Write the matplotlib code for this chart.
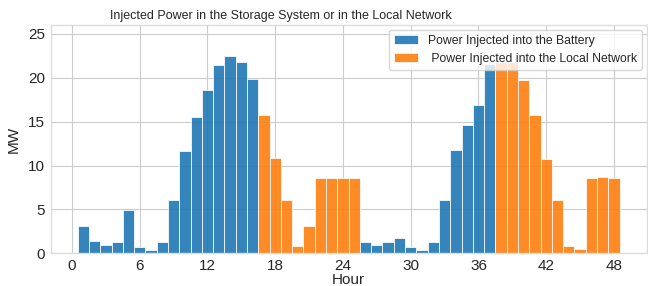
import matplotlib
matplotlib.use('Agg')
import matplotlib.pyplot as plt

# Hourly injected power (MW), two days
hours = list(range(1, 49))
battery_mw = [3.1, 1.4, 1.0, 1.3, 4.9, 0.7, 0.4, 1.3, 6.1, 11.7, 15.5, 18.6, 21.4, 22.5, 21.8, 19.8,
              0, 0, 0, 0, 0, 0, 0, 0, 0,
              1.3, 1.0, 1.3, 1.7, 0.7, 0.4, 1.3, 6.1, 11.8, 14.6, 16.9, 21.6,
              0, 0, 0, 0, 0, 0, 0, 0, 0, 0, 0]
network_mw = [0] * 16 + [15.7, 10.8, 6.1, 0.8, 3.1, 8.6, 8.6, 8.6, 8.6] + [0] * 12 + \
             [21.8, 21.8, 19.7, 15.7, 10.7, 6.1, 0.8, 0.5, 8.6, 8.7, 8.6]
xticks = [0, 6, 12, 18, 24, 30, 36, 42, 48]

plt.style.use('seaborn-v0_8-whitegrid')
plt.rcParams['font.family'] = ['Liberation Sans', 'DejaVu Sans']

fig, ax = plt.subplots(figsize=(6.48, 2.86), dpi=100)
ax.bar(hours, battery_mw, width=1.0, color='#1f77b4', alpha=0.9, edgecolor='white',
       linewidth=0.6, label='Power Injected into the Battery')
ax.bar(hours, network_mw, width=1.0, color='#ff7f0e', alpha=0.9, edgecolor='white',
       linewidth=0.6, label=' Power Injected into the Local Network')

ax.set_xticks(xticks)
ax.set_ylim(0, 26)
ax.tick_params(labelsize=11, pad=4)
ax.set_xlabel('Hour', fontsize=11, labelpad=0)
ax.set_ylabel('MW', fontsize=11, labelpad=5)
# title sits left of the axes centre in the reference
ax.set_title('Injected Power in the Storage System or in the Local Network',
             fontsize=9.0, pad=4, x=0.387)
ax.legend(loc='upper right', fontsize=8.8, frameon=True, borderaxespad=0.4)
for s in ax.spines.values():
    s.set_visible(True)
    s.set_color('#dddddd')

plt.subplots_adjust(left=0.078, right=0.998, top=0.913, bottom=0.114)
plt.savefig('out.png', dpi=100)
plt.close(fig)
